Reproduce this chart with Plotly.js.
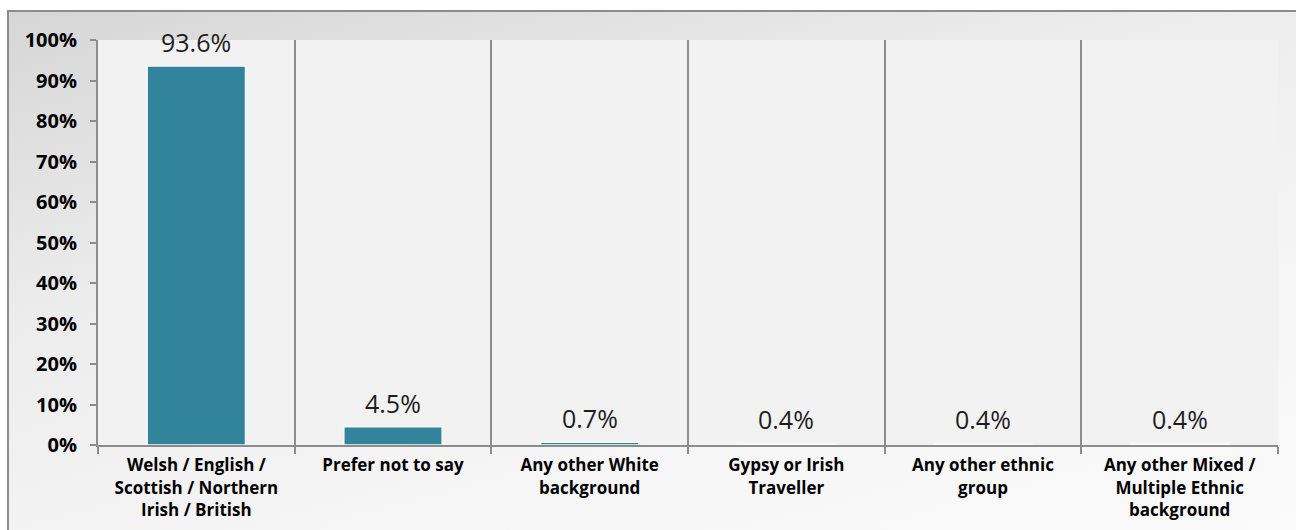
<!DOCTYPE html>
<html>
<head>
<meta charset="utf-8">
<script src="https://cdn.plot.ly/plotly-3.0.1.min.js"></script>
<style>
  html, body { margin: 0; padding: 0; width: 1296px; height: 530px; overflow: hidden; background: #ffffff; }
  #frame { position: absolute; left: 7px; top: 10px; width: 1300px; height: 540px;
           border-left: 2px solid #8c8c8c; border-top: 2px solid #8c8c8c;
           background: linear-gradient(165deg, #d6d6d6 0%, #ececec 35%, #f6f6f6 70%, #fbfbfb 100%); }
  #chart { position: absolute; left: 0; top: 0; width: 1296px; height: 530px; }
</style>
</head>
<body>
<div id="frame"></div>
<div id="chart"></div>
<script>
const categories = [
  "Welsh / English /<br>Scottish / Northern<br>Irish / British",
  "Prefer not to say",
  "Any other White<br>background",
  "Gypsy or Irish<br>Traveller",
  "Any other ethnic<br>group",
  "Any other Mixed /<br>Multiple Ethnic<br>background"
];
const values = [0.936, 0.045, 0.007, 0.004, 0.004, 0.004];
const valueLabels = ["93.6%", "4.5%", "0.7%", "0.4%", "0.4%", "0.4%"];
const yTickVals = [0, 0.1, 0.2, 0.3, 0.4, 0.5, 0.6, 0.7, 0.8, 0.9, 1.0];
const yTickText = ["0%", "10%", "20%", "30%", "40%", "50%", "60%", "70%", "80%", "90%", "100%"];

const trace = {
  type: "bar",
  x: categories,
  y: values,
  marker: { color: "#31849b", line: { color: "#f8f8f8", width: 1.5 } },
  width: 0.5,
  hoverinfo: "skip"
};

const labelAnnotations = categories.map((c, i) => ({
  x: c,
  y: values[i],
  xref: "x",
  yref: "y",
  text: valueLabels[i],
  showarrow: false,
  yanchor: "bottom",
  yshift: 5,
  font: { family: "Open Sans, Noto Sans, sans-serif", size: 25, color: "#1e1e1e" }
}));

const layout = {
  width: 1296,
  height: 530,
  margin: { l: 98, r: 18, t: 40, b: 85, pad: 0 },
  paper_bgcolor: "rgba(0,0,0,0)",
  plot_bgcolor: "#f2f2f2",
  showlegend: false,
  font: { family: "Open Sans, Noto Sans, sans-serif", color: "#000000" },
  annotations: labelAnnotations,
  xaxis: {
    type: "category",
    tickson: "boundaries",
    showgrid: true,
    gridcolor: "#8c8c8c",
    gridwidth: 2,
    ticks: "outside",
    ticklen: 7,
    tickwidth: 2,
    tickcolor: "#8c8c8c",
    showline: true,
    linecolor: "#8c8c8c",
    linewidth: 2,
    ticklabelstandoff: 4,
    tickfont: { family: "Open Sans, Noto Sans, sans-serif", size: 17, color: "#000000", weight: "bold" },
    automargin: false
  },
  yaxis: {
    range: [0, 1],
    tickvals: yTickVals,
    ticktext: yTickText,
    showgrid: false,
    zeroline: false,
    ticks: "outside",
    ticklen: 6,
    tickwidth: 2,
    tickcolor: "#8c8c8c",
    showline: true,
    linecolor: "#8c8c8c",
    linewidth: 2,
    ticklabelstandoff: 9,
    tickfont: { family: "Open Sans, Noto Sans, sans-serif", size: 20, color: "#000000", weight: "bold" },
    automargin: false
  }
};

Plotly.newPlot("chart", [trace], layout, { staticPlot: true, displayModeBar: false });
</script>
</body>
</html>
